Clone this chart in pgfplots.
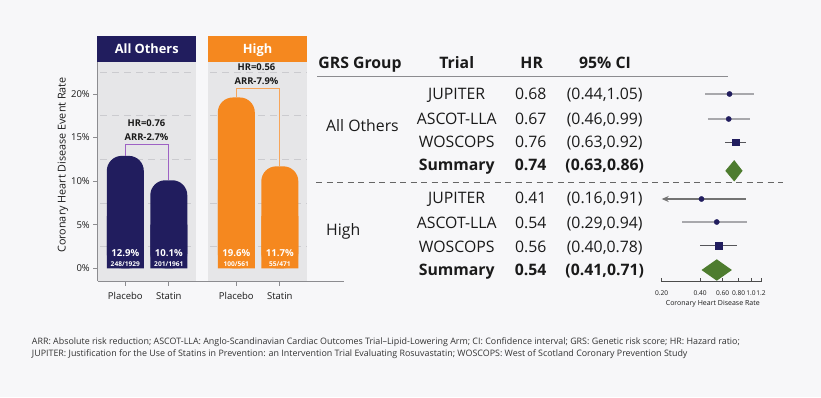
\documentclass[border=0pt]{standalone}
\usepackage{fontspec}
\setmainfont{Open Sans}
\usepackage{pgfplots}
\pgfplotsset{compat=1.18}
\usetikzlibrary{arrows.meta}
\definecolor{bg}{HTML}{F7F7F9}
\definecolor{panel}{HTML}{E6E6E8}
\definecolor{gridc}{HTML}{CBCBCF}
\definecolor{navy}{HTML}{211D5E}
\definecolor{orng}{HTML}{F5881F}
\definecolor{purp}{HTML}{9E62C4}
\definecolor{lorng}{HTML}{F7A55A}
\definecolor{dgreen}{HTML}{4E7C2F}
\definecolor{cigray}{HTML}{A8A8AC}
\definecolor{cidark}{HTML}{55555A}
\definecolor{axgray}{HTML}{8C8C90}
\definecolor{txt}{HTML}{1A1A1A}
\definecolor{foot}{HTML}{333333}
\newcommand{\fs}[1]{\fontsize{#1bp}{#1bp}\selectfont}
\begin{document}
\begin{tikzpicture}
\begin{scope}[x=1bp,y=1bp]
\fill[bg] (0,0) rectangle (821,397);
% group headers
\fill[navy] (97.3,397-36) rectangle (196,397-61.7);
\fill[orng] (208.3,397-36) rectangle (306.7,397-61.7);
\node[white,font=\bfseries\fs{12.8},anchor=base] at (146.7,397-53) {All Others};
\node[white,font=\bfseries\fs{12.8},anchor=base] at (257.5,397-53) {High};
% panels
\fill[panel] (97.3,397-61.7) rectangle (196,397-281);
\fill[panel] (208.3,397-61.7) rectangle (306.7,397-281);
\foreach \yy in {72.2,115.8,159.4,202.9,246.5} {
  \draw[gridc, dash pattern=on 7bp off 5bp, line width=0.8bp] (100,397-\yy) -- (196,397-\yy);
  \draw[gridc, dash pattern=on 7bp off 5bp, line width=0.8bp] (210,397-\yy) -- (306.7,397-\yy);
}
\end{scope}
\begin{axis}[
  at={(97.8bp,116bp)}, anchor=south west,
  scale only axis, width=246bp, height=219bp,
  xmin=-0.632, xmax=5.023, ymin=-1.457, ymax=23.67,
  axis x line*=bottom, axis y line*=left,
  axis line style={axgray, line width=0.9bp, -},
  axis on top, clip=false,
  tick align=outside, major tick length=4.5bp,
  tick style={axgray, line width=0.8bp},
  xtick={0,1,2.552,3.552}, xticklabels={Placebo,Statin,Placebo,Statin},
  ytick={0,5,10,15,20}, yticklabels={0\%,5\%,10\%,15\%,20\%},
  xticklabel style={font=\fs{9.5}, text=txt, anchor=base, yshift=-14bp},
  yticklabel style={font=\fs{9.5}, text=txt, anchor=east},
  ylabel={Coronary Heart Disease Event Rate},
  ylabel style={font=\fs{10.8}, text=txt, at={(axis description cs:-0.142,0.53)}, anchor=center},
  ybar, bar width=37bp, bar shift=0pt,
]
\addplot[fill=navy, draw=none, rounded corners=15bp] coordinates {(0,12.9) (1,10.1)};
\addplot[fill=navy, draw=none] coordinates {(0,6) (1,5)};
\addplot[fill=orng, draw=none, rounded corners=15bp] coordinates {(2.552,19.6) (3.552,11.7)};
\addplot[fill=orng, draw=none] coordinates {(2.552,9) (3.552,6)};
\draw[purp, line width=1.1bp] (axis cs:0,12.9) -- (axis cs:0,14.23) -- (axis cs:1,14.23) -- (axis cs:1,10.1);
\draw[lorng, line width=1.1bp] (axis cs:2.552,19.6) -- (axis cs:2.552,20.65) -- (axis cs:3.552,20.65) -- (axis cs:3.552,11.7);
\node[font=\bfseries\fs{9.4}, text=txt] at (axis cs:0.487,16.7) {HR=0.76};
\node[font=\bfseries\fs{9.4}, text=txt] at (axis cs:0.487,15.1) {ARR-2.7\%};
\node[font=\bfseries\fs{9.4}, text=txt] at (axis cs:3.016,23.06) {HR=0.56};
\node[font=\bfseries\fs{9.4}, text=txt] at (axis cs:3.016,21.5) {ARR-7.9\%};
\node[font=\bfseries\fs{9.6}, white] at (axis cs:0,1.79) {12.9\%};
\node[font=\bfseries\fs{6.6}, white] at (axis cs:0,0.49) {248/1929};
\node[font=\bfseries\fs{9.6}, white] at (axis cs:1,1.79) {10.1\%};
\node[font=\bfseries\fs{6.6}, white] at (axis cs:1,0.49) {201/1961};
\node[font=\bfseries\fs{9.6}, white] at (axis cs:2.552,1.79) {19.6\%};
\node[font=\bfseries\fs{6.6}, white] at (axis cs:2.552,0.49) {100/561};
\node[font=\bfseries\fs{9.6}, white] at (axis cs:3.552,1.79) {11.7\%};
\node[font=\bfseries\fs{6.6}, white] at (axis cs:3.552,0.49) {55/471};
\end{axis}
\begin{scope}[x=1bp,y=1bp]
% table
\draw[axgray, line width=1.2bp] (317,397-76.7) -- (728,397-76.7);
\draw[black!60, line width=1bp, dash pattern=on 6bp off 4.5bp] (316,397-182.3) -- (783,397-182.3);
\begin{scope}[every node/.style={text=txt, font=\fs{15.8}, anchor=base}]
\node[font=\bfseries\fs{15.8}] at (360,397-68.4) {GRS Group};
\node[font=\bfseries\fs{15.8}] at (456.7,397-68.4) {Trial};
\node[font=\bfseries\fs{15.8}] at (531.7,397-68.4) {HR};
\node[font=\bfseries\fs{15.8}] at (605,397-68.4) {95\% CI};
\node[anchor=base west] at (322.7,397-131.4) {All Others};
\node[anchor=base west] at (322.7,397-235.7) {High};
\node at (456.7,397-99.7) {JUPITER};
\node at (456.7,397-124.7) {ASCOT-LLA};
\node at (456.7,397-147.4) {WOSCOPS};
\node[font=\bfseries\fs{15.8}] at (456.7,397-170.7) {Summary};
\node at (456.7,397-203.7) {JUPITER};
\node at (456.7,397-228.4) {ASCOT-LLA};
\node at (456.7,397-252.4) {WOSCOPS};
\node[font=\bfseries\fs{15.8}] at (456.7,397-275.7) {Summary};
\node at (530.7,397-99.7) {0.68};
\node at (530.7,397-124.7) {0.67};
\node at (530.7,397-147.4) {0.76};
\node[font=\bfseries\fs{15.8}] at (530.7,397-170.7) {0.74};
\node at (530.7,397-203.7) {0.41};
\node at (530.7,397-228.4) {0.54};
\node at (530.7,397-252.4) {0.56};
\node[font=\bfseries\fs{15.8}] at (530.7,397-275.7) {0.54};
\node at (604.7,397-99.7) {(0.44,1.05)};
\node at (604.7,397-124.7) {(0.46,0.99)};
\node at (604.7,397-147.4) {(0.63,0.92)};
\node[font=\bfseries\fs{15.8}] at (604.7,397-170.7) {(0.63,0.86)};
\node at (604.7,397-203.7) {(0.16,0.91)};
\node at (604.7,397-228.4) {(0.29,0.94)};
\node at (604.7,397-252.4) {(0.40,0.78)};
\node[font=\bfseries\fs{15.8}] at (604.7,397-275.7) {(0.41,0.71)};
\end{scope}
\end{scope}
% forest plot
\begin{axis}[
  at={(661.7bp,115.3bp)}, anchor=south west,
  scale only axis, width=99.3bp, height=201.7bp,
  xmode=log, xmin=0.2, xmax=1.2, ymin=115.3, ymax=317,
  axis x line*=bottom, axis y line=none,
  axis line style={black!70, line width=0.8bp, -},
  clip=false,
  tick align=inside, major tick length=4bp,
  tick style={black!70, line width=0.8bp},
  xtick={0.2,0.4,0.6,0.8,1,1.2}, xticklabels={0.20,0.40,0.60,0.80,1.0,1.2},
  minor xtick={},
  xticklabel style={font=\fs{6.6}, text=txt, anchor=base, yshift=-13.9bp},
  xlabel={Coronary Heart Disease Rate},
  xlabel style={font=\fs{7}, text=txt, at={(axis description cs:0.5,0)}, anchor=base, yshift=-23.6bp, xshift=1.4bp},
]
\addplot[cigray, line width=1.6bp] coordinates {(0.44,303) (1.05,303)};
\addplot[cigray, line width=1.6bp] coordinates {(0.46,278) (0.99,278)};
\addplot[cidark, line width=1bp] coordinates {(0.63,254.7) (0.92,254.7)};
\addplot[fill=dgreen, draw=none] coordinates {(0.63,226.2) (0.74,236.9) (0.86,226.2) (0.74,215.5)};
\addplot[black!55, line width=1.2bp, {Stealth[length=7bp, width=6bp]}-] coordinates {(0.2,198) (0.91,198)};
\addplot[cigray, line width=1.6bp] coordinates {(0.29,175) (0.94,175)};
\addplot[cidark, line width=1bp] coordinates {(0.40,151.3) (0.78,151.3)};
\addplot[fill=dgreen, draw=none] coordinates {(0.41,127) (0.54,137.7) (0.71,127) (0.54,116.3)};
\addplot[only marks, mark=*, mark size=2.6bp, navy] coordinates {(0.68,303) (0.67,278) (0.41,198) (0.54,175)};
\addplot[only marks, mark=square*, mark size=3.4bp, navy] coordinates {(0.76,254.7) (0.56,151.3)};
\end{axis}
\begin{scope}[x=1bp,y=1bp]
% footnote
\node[anchor=base west, font=\fs{8.9}, text=foot, inner sep=0pt] at (31.7,397-344.7) {ARR: Absolute risk reduction; ASCOT-LLA: Anglo-Scandinavian Cardiac Outcomes Trial–Lipid-Lowering Arm; CI: Confidence interval; GRS: Genetic risk score; HR: Hazard ratio;};
\node[anchor=base west, font=\fs{8.9}, text=foot, inner sep=0pt] at (31.7,397-356) {JUPITER: Justification for the Use of Statins in Prevention: an Intervention Trial Evaluating Rosuvastatin; WOSCOPS: West of Scotland Coronary Prevention Study};
\pgfresetboundingbox
\useasboundingbox (0,0) rectangle (821,397);
\end{scope}
\end{tikzpicture}
\end{document}
